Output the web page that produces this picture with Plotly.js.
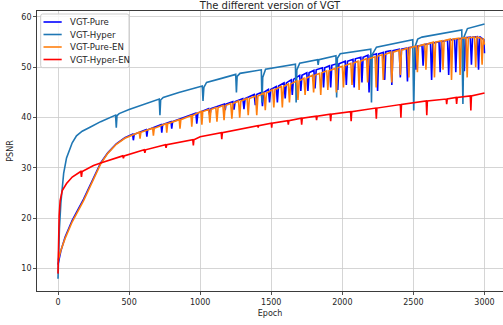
<!DOCTYPE html>
<html><head><meta charset="utf-8">
<script src="https://cdn.plot.ly/plotly-3.0.1.min.js"></script>
<style>html,body{margin:0;padding:0;background:#fff;overflow:hidden}#chart{width:503px;height:325px}</style>
</head><body><div id="chart"></div>
<script>
// ---- data ----
const seriesNames = ["VGT-Pure", "VGT-Hyper", "VGT-Pure-EN", "VGT-Hyper-EN"];

const pureEpoch = [0,20,50,100,180,250,300,350,410,470,525,530,536,620,625,631,725,730,736,795,800,806,900,970,976,984,1060,1068,1076,1170,1176,1182,1230,1238,1246,1300,1308,1316,1380,1388,1396,1430,1438,1446,1480,1488,1496,1535,1543,1551,1590,1598,1606,1640,1648,1656,1700,1708,1716,1750,1758,1766,1800,1808,1816,1860,1868,1876,1910,1918,1926,1960,1968,1976,2020,2028,2036,2075,2083,2091,2130,2138,2146,2180,2188,2196,2240,2248,2256,2290,2298,2306,2340,2348,2356,2400,2408,2416,2450,2458,2466,2510,2518,2526,2560,2568,2576,2620,2628,2636,2680,2688,2696,2740,2748,2756,2790,2798,2806,2850,2858,2866,2900,2908,2916,2950,2958,2966,2995,3000];
const purePsnr = [10.8,13.5,16.3,19.6,23.8,28.0,31.0,33.0,34.8,36.0,36.7,35.5,36.7,37.6,36.2,37.6,38.6,37.0,38.6,39.2,37.8,39.2,40.2,40.9,38.8,40.9,41.8,40.4,41.8,42.7,41.5,42.7,43.2,41.6,43.2,43.8,41.7,43.8,44.6,42.5,44.6,45.0,42.3,45.0,45.6,43.0,45.6,46.2,43.0,46.3,46.9,43.8,46.9,47.5,44.5,47.6,48.4,45.3,48.4,48.9,45.3,48.9,49.4,45.8,49.5,49.9,46.0,49.9,50.3,46.0,50.4,50.7,45.5,50.7,51.2,46.5,51.2,51.6,46.0,51.7,52.0,47.0,52.0,52.4,45.0,52.3,52.7,45.3,52.7,53.0,47.5,53.1,53.3,46.5,53.3,53.6,48.0,53.6,53.8,47.2,53.9,54.1,49.5,54.2,54.4,50.3,54.5,54.8,47.5,54.8,55.1,49.0,55.1,55.4,48.5,55.4,55.6,49.0,55.6,55.8,49.2,55.9,56.0,50.5,56.0,56.1,49.5,56.1,55.5,52.8];

const hyperEpoch = [0,5,10,20,30,40,60,80,100,130,170,225,300,405,410,415,430,500,600,712,717,722,740,850,1015,1020,1026,1045,1150,1250,1255,1260,1280,1430,1435,1440,1460,1670,1675,1680,1700,1825,1830,1835,1955,1960,1965,1985,2200,2205,2210,2240,2495,2502,2510,2530,2560,2840,2848,2855,2880,3000];
const hyperPsnr = [8.0,14.0,18.0,23.0,26.5,29.0,32.0,33.6,35.0,36.4,37.3,38.1,39.2,40.5,38.0,40.4,40.8,41.6,42.6,43.7,40.5,43.5,44.0,45.0,46.3,43.3,46.0,47.0,47.8,48.6,45.0,48.2,48.8,49.5,43.0,48.0,49.6,50.6,43.0,49.5,50.8,51.5,50.5,51.5,52.3,44.0,51.8,52.7,53.6,43.0,52.5,54.0,55.5,41.4,54.0,55.6,56.0,57.4,42.7,56.0,57.7,58.6];

const pureEnEpoch = [0,20,50,100,180,250,300,350,410,470,572,577,583,666,671,677,760,765,771,853,858,864,936,941,947,1006,1012,1018,1060,1068,1076,1110,1118,1126,1160,1168,1176,1215,1223,1231,1270,1278,1286,1330,1338,1346,1390,1398,1406,1450,1458,1466,1510,1518,1526,1570,1578,1586,1620,1628,1636,1680,1688,1696,1730,1738,1746,1790,1798,1806,1840,1848,1856,1890,1898,1906,1950,1958,1966,2000,2008,2016,2060,2068,2076,2110,2118,2126,2170,2178,2186,2230,2238,2246,2280,2288,2296,2340,2348,2356,2400,2408,2416,2460,2468,2476,2520,2528,2536,2580,2588,2596,2640,2648,2656,2700,2708,2716,2760,2768,2776,2820,2828,2836,2870,2878,2886,2930,2938,2946,2975,2983,2991,3000];
const pureEnPsnr = [11.6,13.6,16.0,19.3,23.5,27.8,30.8,32.9,34.7,35.9,37.1,35.8,37.1,37.9,36.4,37.9,38.8,37.0,38.8,39.6,37.8,39.6,40.4,38.2,40.4,41.2,38.6,41.2,41.6,39.0,41.6,42.0,39.2,42.0,42.4,39.5,42.4,42.8,39.8,42.8,43.3,40.0,43.3,43.8,40.5,43.8,44.3,40.5,44.3,44.9,41.5,44.9,45.6,42.0,45.6,46.2,42.0,46.2,46.7,43.0,46.7,47.3,43.5,47.3,47.8,44.5,47.8,48.4,45.0,48.4,48.8,44.5,48.9,49.3,45.5,49.3,49.8,45.0,49.9,50.2,46.0,50.3,50.8,46.5,50.8,51.2,45.5,51.2,51.7,47.0,51.7,52.1,46.0,52.2,52.5,47.5,52.5,53.0,47.0,53.0,53.4,48.5,53.4,53.8,48.0,53.9,54.2,49.0,54.2,54.6,49.5,54.6,55.0,48.0,55.0,55.3,49.5,55.3,55.6,47.5,55.6,55.8,48.5,55.8,55.9,48.0,55.9,56.0,50.0,56.0,55.8,50.5,55.8,54.5];

const hyperEnEpoch = [0,3,8,15,30,60,100,160,165,170,250,300,455,460,465,606,611,616,755,760,765,948,952,956,1000,1148,1152,1156,1300,1405,1408,1411,1500,1503,1506,1616,1620,1624,1710,1714,1718,1815,1819,1823,1914,1918,1922,2058,2062,2066,2235,2239,2243,2408,2412,2416,2590,2594,2598,2730,2734,2738,2800,2804,2808,2900,2904,2908,3000];
const hyperEnPsnr = [9.0,16.0,20.5,23.5,25.5,26.9,28.2,29.3,28.2,29.3,30.5,31.0,32.4,31.9,32.4,33.6,33.0,33.6,34.6,34.0,34.6,35.6,34.5,35.6,36.2,37.0,35.7,37.0,37.8,38.4,38.0,38.4,38.9,38.0,38.9,39.4,38.6,39.4,39.9,38.6,39.9,40.3,39.5,40.3,40.7,39.3,40.7,41.2,39.3,41.2,41.9,39.8,41.9,42.6,40.0,42.6,43.3,40.5,43.3,43.7,42.7,43.7,44.0,42.7,44.0,44.3,41.4,44.3,44.9];

const xTicks = [0,500,1000,1500,2000,2500,3000];
const yTicks = [10,20,30,40,50,60];

// ---- drawing ----
const W = 503, H = 325;
const M = {l: 37, r: 0, t: 11, b: 34};
const pw = W - M.l - M.r, ph = H - M.t - M.b;
const px2x = p => (p - M.l) / pw;          // pixel -> paper x
const px2y = p => (H - M.b - p) / ph;      // pixel -> paper y

const colors = ["#0000ff", "#1f77b4", "#ff7f0e", "#ff0000"];
const xs = [pureEpoch, hyperEpoch, pureEnEpoch, hyperEnEpoch];
const ys = [purePsnr, hyperPsnr, pureEnPsnr, hyperEnPsnr];

const traces = seriesNames.map((n, i) => ({
  type: "scatter", mode: "lines", name: n,
  x: xs[i], y: ys[i],
  line: {color: colors[i], width: 1.6},
  showlegend: false
}));

const ink = "#262626";
const font = {family: "DejaVu Sans, sans-serif", size: 8, color: ink};

// hand-made legend (matplotlib-like compact box)
const box = {x0: 40.7, x1: 129, y0: 14, y1: 67.7, r: 2};
const rx = box.r / pw, ry = box.r / ph;
const bx0 = px2x(box.x0), bx1 = px2x(box.x1), by0 = px2y(box.y1), by1 = px2y(box.y0);
const boxPath = `M ${bx0+rx},${by0} L ${bx1-rx},${by0} Q ${bx1},${by0} ${bx1},${by0+ry} L ${bx1},${by1-ry} Q ${bx1},${by1} ${bx1-rx},${by1} L ${bx0+rx},${by1} Q ${bx0},${by1} ${bx0},${by1-ry} L ${bx0},${by0+ry} Q ${bx0},${by0} ${bx0+rx},${by0} Z`;
const rowsY = [22, 34.5, 47, 59.5];
const shapes = [{type: "path", xref: "paper", yref: "paper", path: boxPath,
  fillcolor: "rgba(255,255,255,0.8)", line: {color: "#cccccc", width: 1}, layer: "above"}];
const annotations = [];
seriesNames.forEach((n, i) => {
  shapes.push({type: "line", xref: "paper", yref: "paper", layer: "above",
    x0: px2x(43.5), x1: px2x(61.7), y0: px2y(rowsY[i]), y1: px2y(rowsY[i]),
    line: {color: colors[i], width: 1.6}});
  annotations.push({xref: "paper", yref: "paper", x: px2x(67.5), y: px2y(rowsY[i]),
    xanchor: "left", yanchor: "middle", text: n, showarrow: false,
    font: {family: "DejaVu Sans, sans-serif", size: 8.6, color: ink}});
});

const axisCommon = {
  showline: true, linecolor: ink, linewidth: 0.9,
  ticks: "outside", ticklen: 3, tickwidth: 0.8, tickcolor: ink,
  showgrid: true, gridcolor: "#cbcbcb", gridwidth: 0.8,
  zeroline: false, tickfont: font
};

const layout = {
  width: W, height: H,
  margin: M,
  paper_bgcolor: "#ffffff", plot_bgcolor: "#ffffff",
  font: font,
  title: {text: "The different version of VGT", font: {family: "DejaVu Sans, sans-serif", size: 10, color: ink},
          x: 270 / W, xanchor: "center", yref: "container", y: 1 - 5.5 / H, yanchor: "middle"},
  xaxis: Object.assign({}, axisCommon, {mirror: true, range: [(M.l - 58) / 0.14217, (W - 58) / 0.14217],
          tickvals: xTicks, ticktext: xTicks.map(String),
          title: {text: "Epoch", font: font, standoff: 4}}),
  yaxis: Object.assign({}, axisCommon, {mirror: false, range: [5.55, 61.19],
          tickvals: yTicks, ticktext: yTicks.map(String),
          title: {text: "PSNR", font: font, standoff: 6}}),
  showlegend: false,
  shapes: shapes,
  annotations: annotations
};

Plotly.newPlot("chart", traces, layout, {staticPlot: true, displayModeBar: false});
</script>
</body></html>
